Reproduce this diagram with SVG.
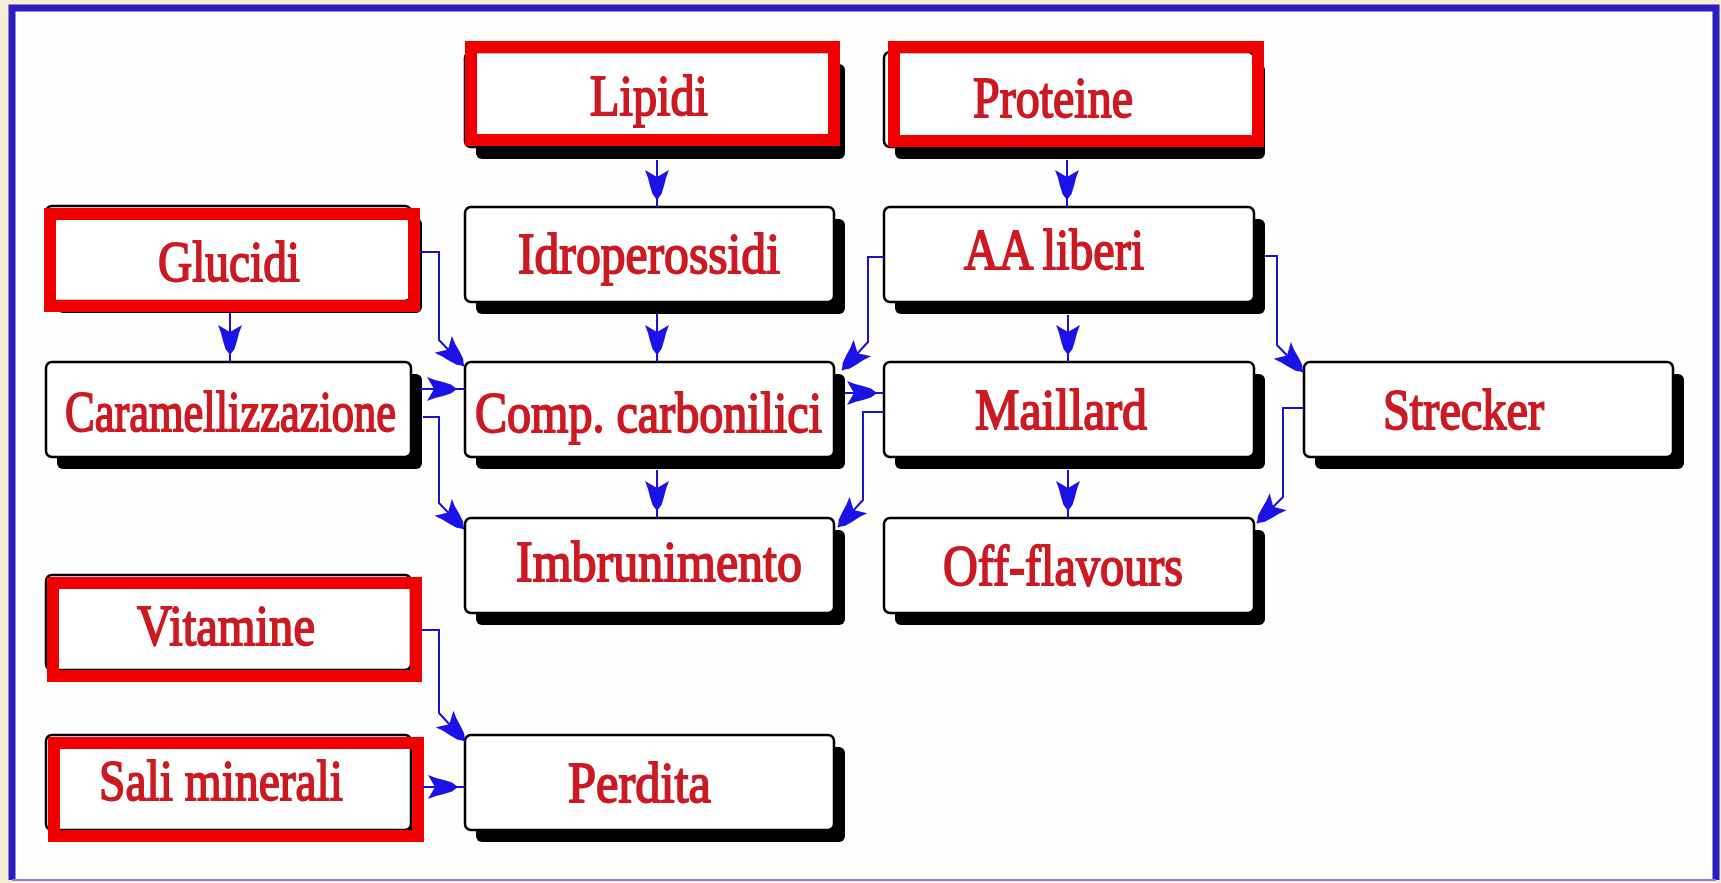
<svg xmlns="http://www.w3.org/2000/svg" width="1721" height="883" viewBox="0 0 1721 883">
<style>
.sh{fill:#000}
.bx{fill:#fff;stroke:#000;stroke-width:2.5}
.rb{fill:none;stroke:#f00000;stroke-width:12}
.t{font-family:"Liberation Serif","Times New Roman",serif;font-size:56px;font-weight:normal;fill:#cc1a22;stroke:#cc1a22;stroke-width:1.8;text-anchor:start}
.c{fill:none;stroke:#1a12d2;stroke-width:2}
.ce{fill:none;stroke:#1a12d2;stroke-width:2;marker-end:url(#ah)}
</style>
<defs>
<marker id="ah" markerUnits="userSpaceOnUse" markerWidth="40" markerHeight="30" viewBox="-36 -15 40 30" refX="0" refY="0" orient="auto">
<path d="M0,0 L-6,-4.5 L-14,-7 L-22,-9 L-30,-12 L-23,0 L-30,12 L-22,9 L-14,7 L-6,4.5 Z" fill="#1a12e6"/>
</marker>
</defs>
<rect x="0" y="0" width="1721" height="883" fill="#f6edd6"/>
<rect x="12" y="8" width="1704" height="872" fill="#fefefc"/>
<path d="M12,880 V8 H1716 V880" fill="none" stroke="#2d1cc2" stroke-width="7"/>
<path d="M12,880 H1716" fill="none" stroke="#8a7fe0" stroke-width="2"/>

<g id="node-lipidi">
<rect class="sh" x="476" y="64" width="369" height="95" rx="6"/>
<rect class="bx" x="465" y="52" width="369" height="95" rx="6"/>
<rect class="rb" x="471" y="47" width="363" height="93"/>
<text class="t" x="590" y="115" textLength="118" lengthAdjust="spacingAndGlyphs">Lipidi</text>
</g>
<g id="node-proteine">
<rect class="sh" x="895" y="64" width="370" height="95" rx="6"/>
<rect class="bx" x="884" y="52" width="370" height="95" rx="6"/>
<rect class="rb" x="894" y="47" width="364" height="94"/>
<text class="t" x="973" y="117" textLength="160" lengthAdjust="spacingAndGlyphs">Proteine</text>
</g>
<g id="node-glucidi">
<rect class="sh" x="57" y="218" width="365" height="95" rx="6"/>
<rect class="bx" x="46" y="206" width="365" height="95" rx="6"/>
<rect class="rb" x="50" y="214" width="364" height="92"/>
<text class="t" x="158" y="281" textLength="142" lengthAdjust="spacingAndGlyphs">Glucidi</text>
</g>
<g id="node-idroperossidi">
<rect class="sh" x="476" y="219" width="369" height="95" rx="6"/>
<rect class="bx" x="465" y="207" width="369" height="95" rx="6"/>
<text class="t" x="518" y="273" textLength="262" lengthAdjust="spacingAndGlyphs">Idroperossidi</text>
</g>
<g id="node-aa-liberi">
<rect class="sh" x="895" y="219" width="370" height="95" rx="6"/>
<rect class="bx" x="884" y="207" width="370" height="95" rx="6"/>
<text class="t" x="964" y="269" textLength="180" lengthAdjust="spacingAndGlyphs">AA liberi</text>
</g>
<g id="node-caramellizzazione">
<rect class="sh" x="57" y="374" width="365" height="95" rx="6"/>
<rect class="bx" x="46" y="362" width="365" height="95" rx="6"/>
<text class="t" x="65" y="431" textLength="331" lengthAdjust="spacingAndGlyphs">Caramellizzazione</text>
</g>
<g id="node-comp-carbonilici">
<rect class="sh" x="476" y="374" width="369" height="95" rx="6"/>
<rect class="bx" x="465" y="362" width="369" height="95" rx="6"/>
<text class="t" x="475" y="432" textLength="347" lengthAdjust="spacingAndGlyphs">Comp. carbonilici</text>
</g>
<g id="node-maillard">
<rect class="sh" x="895" y="374" width="370" height="95" rx="6"/>
<rect class="bx" x="884" y="362" width="370" height="95" rx="6"/>
<text class="t" x="975" y="429" textLength="172" lengthAdjust="spacingAndGlyphs">Maillard</text>
</g>
<g id="node-strecker">
<rect class="sh" x="1315" y="374" width="369" height="95" rx="6"/>
<rect class="bx" x="1304" y="362" width="369" height="95" rx="6"/>
<text class="t" x="1383" y="429" textLength="161" lengthAdjust="spacingAndGlyphs">Strecker</text>
</g>
<g id="node-imbrunimento">
<rect class="sh" x="476" y="530" width="369" height="95" rx="6"/>
<rect class="bx" x="465" y="518" width="369" height="95" rx="6"/>
<text class="t" x="516" y="581" textLength="286" lengthAdjust="spacingAndGlyphs">Imbrunimento</text>
</g>
<g id="node-off-flavours">
<rect class="sh" x="895" y="530" width="370" height="95" rx="6"/>
<rect class="bx" x="884" y="518" width="370" height="95" rx="6"/>
<text class="t" x="943" y="585" textLength="240" lengthAdjust="spacingAndGlyphs">Off-flavours</text>
</g>
<g id="node-vitamine">
<rect class="sh" x="57" y="587" width="365" height="95" rx="6"/>
<rect class="bx" x="46" y="575" width="365" height="95" rx="6"/>
<rect class="rb" x="53" y="583" width="363" height="93"/>
<text class="t" x="137" y="645" textLength="178" lengthAdjust="spacingAndGlyphs">Vitamine</text>
</g>
<g id="node-sali-minerali">
<rect class="sh" x="57" y="747" width="365" height="95" rx="6"/>
<rect class="bx" x="46" y="735" width="365" height="95" rx="6"/>
<rect class="rb" x="54" y="743" width="364" height="93"/>
<text class="t" x="99" y="800" textLength="244" lengthAdjust="spacingAndGlyphs">Sali minerali</text>
</g>
<g id="node-perdita">
<rect class="sh" x="476" y="747" width="369" height="95" rx="6"/>
<rect class="bx" x="465" y="735" width="369" height="95" rx="6"/>
<text class="t" x="568" y="802" textLength="143" lengthAdjust="spacingAndGlyphs">Perdita</text>
</g>

<g id="connectors">
<path class="ce" d="M657,160 V200"/><path class="c" d="M657,200 V207"/>
<path class="ce" d="M657,314 V355"/><path class="c" d="M657,355 V362"/>
<path class="ce" d="M657,470 V511"/><path class="c" d="M657,511 V518"/>
<path class="ce" d="M230,313 V355"/><path class="c" d="M230,355 V362"/>
<path class="ce" d="M1067,160 V200"/><path class="c" d="M1067,200 V207"/>
<path class="ce" d="M1068,315 V355"/><path class="c" d="M1068,355 V362"/>
<path class="ce" d="M1068,470 V511"/><path class="c" d="M1068,511 V518"/>
<path class="ce" d="M420,252 H439 V340 L464,366"/>
<path class="ce" d="M421,389 H457"/><path class="c" d="M457,389 H465"/>
<path class="ce" d="M423,417 H439 V503 L464,529"/>
<path class="ce" d="M884,257 H868 V342 L842,370"/>
<path class="ce" d="M845,393 H877"/><path class="c" d="M877,393 H884"/>
<path class="ce" d="M884,412 H863 V500 L838,527"/>
<path class="ce" d="M1265,256 H1277 V345 L1303,372"/>
<path class="ce" d="M1304,408 H1283 V497 L1257,523"/>
<path class="ce" d="M422,630 H439 V713 L465,741"/>
<path class="ce" d="M423,787 H458"/><path class="c" d="M458,787 H465"/>
</g>
</svg>
